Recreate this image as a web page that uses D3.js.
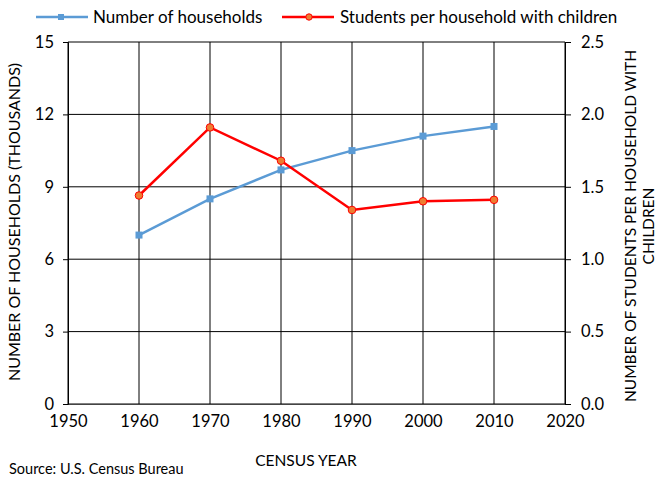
<!DOCTYPE html>
<html>
<head>
<meta charset="utf-8">
<script src="https://cdn.jsdelivr.net/npm/d3@7"></script>
<style>
  body { margin: 0; background: #fff; }
  svg text { font-family: Lato, "Open Sans", sans-serif; fill: #000; }
</style>
</head>
<body>
<svg id="chart"></svg>
<script>
// census data
const years = [1960, 1970, 1980, 1990, 2000, 2010];
const households = [7.0, 8.5, 9.7, 10.5, 11.1, 11.5];
const studentsPerHousehold = [1.44, 1.91, 1.68, 1.34, 1.40, 1.41];
const xTicks = [1950, 1960, 1970, 1980, 1990, 2000, 2010, 2020];
const leftTicks = [0, 3, 6, 9, 12, 15];
const rightTicks = [0, 0.5, 1.0, 1.5, 2.0, 2.5];

const width = 655, height = 478;
const margin = { top: 42, right: 90, bottom: 74, left: 68 };

const svg = d3.select('#chart')
  .attr('width', width)
  .attr('height', height);

const x = d3.scaleLinear().domain([1950, 2020]).range([margin.left, width - margin.right]);
const yL = d3.scaleLinear().domain([0, 15]).range([height - margin.bottom, margin.top]);
const yR = d3.scaleLinear().domain([0, 2.5]).range([height - margin.bottom, margin.top]);

// gridlines
const grid = svg.append('g');
grid.selectAll('line.h')
  .data(leftTicks)
  .enter().append('line')
  .attr('x1', x(1950)).attr('x2', x(2020))
  .attr('y1', d => yL(d)).attr('y2', d => yL(d))
  .attr('stroke', '#000').attr('stroke-width', 1);
grid.selectAll('line.v')
  .data(xTicks)
  .enter().append('line')
  .attr('x1', d => x(d)).attr('x2', d => x(d))
  .attr('y1', yL(0)).attr('y2', yL(15))
  .attr('stroke', '#000').attr('stroke-width', 1);

// axes
const styleAxis = g => {
  g.selectAll('path.domain').attr('stroke', '#000');
  g.selectAll('.tick line').attr('stroke', '#000');
  g.selectAll('.tick text').style('font-size', '16.5px').attr('fill', '#000');
};

svg.append('g')
  .attr('transform', `translate(0,${yL(0)})`)
  .call(d3.axisBottom(x).tickValues(xTicks).tickFormat(d3.format('d')).tickSize(0).tickPadding(11))
  .call(styleAxis)
  .call(g => g.select('path.domain').attr('stroke', '#444'));

svg.append('g')
  .attr('transform', `translate(${x(1950)},0)`)
  .call(d3.axisLeft(yL).tickValues(leftTicks).tickSize(5).tickPadding(9))
  .call(styleAxis);

svg.append('g')
  .attr('transform', `translate(${x(2020)},0)`)
  .call(d3.axisRight(yR).tickValues(rightTicks).tickFormat(d3.format('.1f')).tickSize(6).tickPadding(10))
  .call(styleAxis);

// axis titles
svg.append('text')
  .attr('transform', `translate(20,222) rotate(-90)`)
  .attr('text-anchor', 'middle')
  .style('font-size', '16px')
  .text('NUMBER OF HOUSEHOLDS (THOUSANDS)');

const rt = svg.append('text')
  .attr('transform', `translate(636,226) rotate(-90)`)
  .attr('text-anchor', 'middle')
  .style('font-size', '15.5px');
rt.append('tspan').attr('x', 0).attr('dy', 0).text('NUMBER OF STUDENTS PER HOUSEHOLD WITH');
rt.append('tspan').attr('x', 0).attr('dy', 17.5).text('CHILDREN');

svg.append('text')
  .attr('x', 306)
  .attr('y', 466)
  .attr('text-anchor', 'middle')
  .style('font-size', '15.5px')
  .text('CENSUS YEAR');

svg.append('text')
  .attr('x', 9)
  .attr('y', 474)
  .style('font-size', '14.5px')
  .text('Source: U.S. Census Bureau');

// series
const blue = '#5b9bd5', red = '#ff0000', orange = '#ed7d31';

const lineL = d3.line().x((d, i) => x(years[i])).y(d => yL(d));
const lineR = d3.line().x((d, i) => x(years[i])).y(d => yR(d));

svg.append('path')
  .datum(households)
  .attr('d', lineL)
  .attr('fill', 'none')
  .attr('stroke', blue)
  .attr('stroke-width', 2.5);

svg.selectAll('rect.hh')
  .data(households)
  .enter().append('rect')
  .attr('class', 'hh')
  .attr('x', (d, i) => x(years[i]) - 3.5)
  .attr('y', d => yL(d) - 3.5)
  .attr('width', 7).attr('height', 7)
  .attr('fill', blue);

svg.append('path')
  .datum(studentsPerHousehold)
  .attr('d', lineR)
  .attr('fill', 'none')
  .attr('stroke', red)
  .attr('stroke-width', 2.5);

svg.selectAll('circle.sp')
  .data(studentsPerHousehold)
  .enter().append('circle')
  .attr('class', 'sp')
  .attr('cx', (d, i) => x(years[i]))
  .attr('cy', d => yR(d))
  .attr('r', 3.8)
  .attr('fill', orange)
  .attr('stroke', red)
  .attr('stroke-width', 1);

// legend
const legend = svg.append('g');
legend.append('line')
  .attr('x1', 36).attr('x2', 88).attr('y1', 17).attr('y2', 17)
  .attr('stroke', blue).attr('stroke-width', 2.5);
legend.append('rect')
  .attr('x', 61 - 3).attr('y', 17 - 3).attr('width', 6).attr('height', 6)
  .attr('fill', blue);
legend.append('text')
  .attr('x', 93).attr('y', 23)
  .style('font-size', '17px')
  .text('Number of households');

legend.append('line')
  .attr('x1', 282).attr('x2', 334).attr('y1', 17).attr('y2', 17)
  .attr('stroke', red).attr('stroke-width', 2.5);
legend.append('circle')
  .attr('cx', 309).attr('cy', 17).attr('r', 3.2)
  .attr('fill', orange).attr('stroke', red).attr('stroke-width', 1);
legend.append('text')
  .attr('x', 340).attr('y', 23)
  .style('font-size', '17px')
  .text('Students per household with children');
</script>
</body>
</html>
